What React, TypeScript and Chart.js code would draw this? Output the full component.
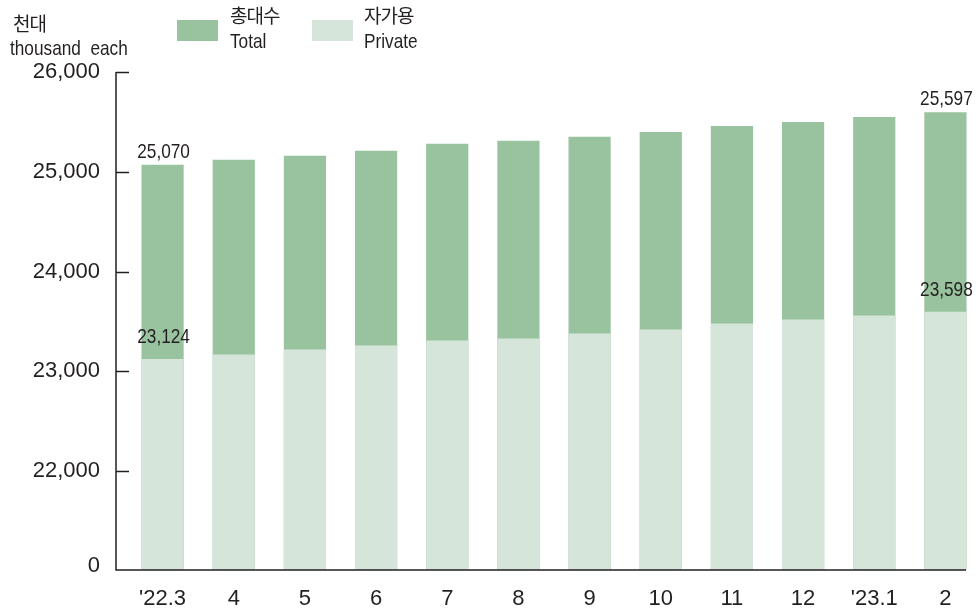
import React, { useEffect, useRef } from 'react';
import { Chart, registerables } from 'chart.js';
Chart.register(...registerables);

const categories = ["'22.3", '4', '5', '6', '7', '8', '9', '10', '11', '12', "'23.1", '2'];
const totalValues = [25070, 25120, 25160, 25210, 25280, 25310, 25350, 25400, 25460, 25500, 25550, 25597];
const privateValues = [23124, 23170, 23220, 23260, 23310, 23330, 23380, 23420, 23480, 23520, 23560, 23598];
const yTickValues = [22000, 23000, 24000, 25000, 26000];
const yZeroLabelValue = 21050;
const yMin = 21010;
const yMax = 26000;
const labeledIndices = [0, 11];

const FONT = '"Liberation Sans", Arial, "Noto Sans CJK KR", sans-serif';
const KFONT = '"Noto Sans CJK KR", sans-serif';
const TEXT = '#231F20';
const TOTAL_COLOR = '#98C39E';
const PRIVATE_COLOR = '#D5E5D9';
const AXIS_X = 116;
const AXIS_RIGHT = 966;
const CONDENSE = 0.82;

const fmt = (v: number) => v.toLocaleString('en-US');

const overlayPlugin = {
  id: 'overlay',
  afterDraw(chart: any) {
    const ctx = chart.ctx;
    const y = chart.scales.y;
    const area = chart.chartArea;
    ctx.save();
    ctx.strokeStyle = TEXT;
    ctx.lineWidth = 1.5;
    ctx.beginPath();
    ctx.moveTo(AXIS_X, area.top);
    ctx.lineTo(AXIS_X, area.bottom);
    ctx.lineTo(AXIS_RIGHT, area.bottom);
    ctx.stroke();
    yTickValues.forEach((v) => {
      const py = Math.round(y.getPixelForValue(v)) + 0.5;
      ctx.beginPath();
      ctx.moveTo(AXIS_X, py);
      ctx.lineTo(AXIS_X + 13, py);
      ctx.stroke();
    });
    ctx.fillStyle = TEXT;
    ctx.font = `21px ${FONT}`;
    ctx.textAlign = 'center';
    ctx.textBaseline = 'middle';
    chart.data.datasets.forEach((ds: any, di: number) => {
      const meta = chart.getDatasetMeta(di);
      const off = di === 0 ? 13 : 22;
      labeledIndices.forEach((i) => {
        const el = meta.data[i];
        ctx.save();
        ctx.translate(el.x + 1, el.y - off);
        ctx.scale(CONDENSE, 1);
        ctx.fillText(fmt(ds.data[i]), 0, 0);
        ctx.restore();
      });
    });
    ctx.restore();
  },
};

export default function App() {
  const ref = useRef<HTMLCanvasElement | null>(null);
  useEffect(() => {
    if (!ref.current) return;
    const chart = new Chart(ref.current, {
      type: 'bar',
      data: {
        labels: categories,
        datasets: [
          { label: 'Total', data: totalValues, backgroundColor: TOTAL_COLOR, order: 2, barPercentage: 0.593, categoryPercentage: 1 },
          { label: 'Private', data: privateValues, backgroundColor: PRIVATE_COLOR, order: 1, barPercentage: 0.593, categoryPercentage: 1 },
        ],
      },
      options: {
        animation: false,
        responsive: false,
        maintainAspectRatio: false,
        layout: { padding: { top: 72, right: 0, left: 0, bottom: 0 } },
        plugins: { legend: { display: false }, tooltip: { enabled: false } },
        scales: {
          x: {
            stacked: true,
            grid: { display: false, drawTicks: false },
            border: { display: false },
            ticks: { color: TEXT, font: { family: FONT, size: 22 }, padding: 16, maxRotation: 0, autoSkip: false },
            afterFit: (s: any) => { s.height = 41; },
          },
          y: {
            stacked: false,
            min: yMin,
            max: yMax,
            grid: { display: false, drawTicks: false },
            border: { display: false },
            ticks: {
              color: TEXT,
              font: { family: FONT, size: 22 },
              padding: 27,
              callback: (v: any) => (v === yZeroLabelValue ? '0' : fmt(Number(v))),
            },
            afterBuildTicks: (s: any) => {
              s.ticks = [yZeroLabelValue, ...yTickValues].map((value) => ({ value }));
            },
            afterFit: (s: any) => { s.width = 127; },
          },
        },
      },
      plugins: [overlayPlugin],
    });
    return () => chart.destroy();
  }, []);

  const txt: React.CSSProperties = {
    position: 'absolute', fontFamily: FONT, color: TEXT, fontSize: 21, lineHeight: '21px', whiteSpace: 'pre',
    transform: `scaleX(${CONDENSE})`, transformOrigin: '0 0',
  };
  const ktxt: React.CSSProperties = { position: 'absolute', fontFamily: KFONT, color: TEXT, fontSize: 19, letterSpacing: -1, lineHeight: '19px', whiteSpace: 'pre' };
  return (
    <div style={{ position: 'fixed', left: 0, top: 0, width: 978, height: 611, background: '#fff', overflow: 'hidden' }}>
      <canvas ref={ref} width={981} height={611} style={{ position: 'absolute', left: 0, top: 0 }} />
      <div style={{ ...ktxt, left: 13, top: 13 }}>천대</div>
      <div style={{ ...txt, left: 10, top: 37 }}>{'thousand  each'}</div>
      <div style={{ position: 'absolute', left: 177, top: 20, width: 41, height: 21, background: TOTAL_COLOR }} />
      <div style={{ ...ktxt, left: 230, top: 5 }}>총대수</div>
      <div style={{ ...txt, left: 230, top: 30 }}>Total</div>
      <div style={{ position: 'absolute', left: 312, top: 20, width: 41, height: 21, background: PRIVATE_COLOR }} />
      <div style={{ ...ktxt, left: 364, top: 5 }}>자가용</div>
      <div style={{ ...txt, left: 364, top: 30 }}>Private</div>
    </div>
  );
}
